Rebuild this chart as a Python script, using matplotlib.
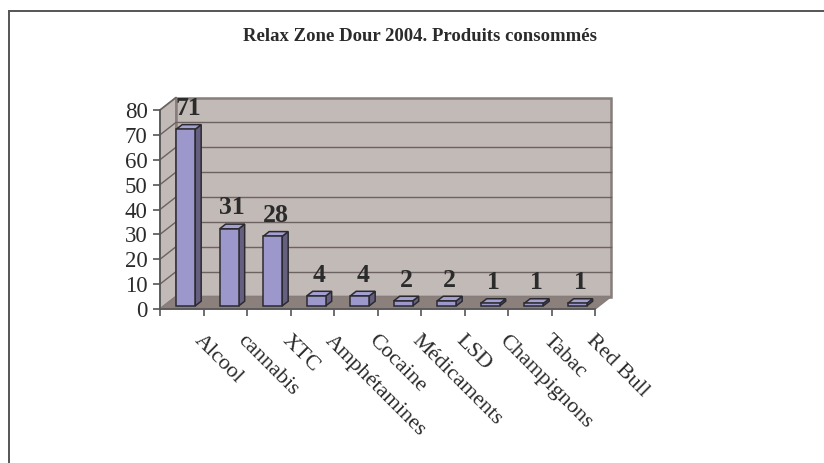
import matplotlib
matplotlib.use("Agg")
import matplotlib.pyplot as plt
from matplotlib.patches import Polygon, Rectangle

# data
categories = ["Alcool", "cannabis", "XTC", "Amphétamines", "Cocaine",
              "Médicaments", "LSD", "Champignons", "Tabac", "Red Bull"]
counts = [71, 31, 28, 4, 4, 2, 2, 1, 1, 1]
yticks = [0, 10, 20, 30, 40, 50, 60, 70, 80]
title = "Relax Zone Dour 2004. Produits consommés"

serif = ["Liberation Serif", "DejaVu Serif"]
wall_c = "#c2bab7"
floor_c = "#8c807d"
edge_c = "#877d7b"
grid_c = "#6c6262"
face_c = "#9c98cc"
side_c = "#675f80"
top_c = "#a4a0d2"
dark = "#2b2b2f"

fig = plt.figure(figsize=(8.24, 4.63), dpi=100)

# outer frame (only top and left edges fall inside the picture)
fig.add_artist(plt.Line2D([9 / 824, 1], [1 - 11 / 463, 1 - 11 / 463],
                          transform=fig.transFigure, color="#555555", lw=1.4))
fig.add_artist(plt.Line2D([9 / 824, 9 / 824], [0, 1 - 11 / 463],
                          transform=fig.transFigure, color="#555555", lw=1.4))

# front plane of the chart: x in category slots, y in counts
ax = fig.add_axes([160 / 824, 1 - 309 / 463, 435 / 824, 199 / 463])
n = len(categories)
ymax = yticks[-1]
ax.set_xlim(0, n)
ax.set_ylim(0, ymax)
ax.patch.set_visible(False)

# depth of the 3D box, in data units
dx = 16 / 43.5
dy = 12.5 * ymax / 199

# left wall, back wall, floor
ax.add_patch(Polygon([(0, 0), (dx, dy), (dx, ymax + dy), (0, ymax)],
                     closed=True, fc=wall_c, ec=edge_c, lw=1.2, zorder=1, clip_on=False))
ax.add_patch(Rectangle((dx, dy), n, ymax, fc=wall_c, ec=edge_c, lw=1.8, zorder=1, clip_on=False))
ax.add_patch(Polygon([(0, 0), (n, 0), (n + dx, dy), (dx, dy)],
                     closed=True, fc=floor_c, ec=edge_c, lw=1.2, zorder=2, clip_on=False))

# grid lines on the back wall and diagonals on the left wall
for v in yticks[1:-1]:
    ax.plot([dx, n + dx], [v + dy, v + dy], color=grid_c, lw=1.0, zorder=1.5, clip_on=False)
for v in yticks[1:]:
    ax.plot([0, dx], [v, v + dy], color=grid_c, lw=1.0, zorder=1.5, clip_on=False)

# bars
w = 0.437
f0, f1 = 0.25, 0.62
for i, v in enumerate(counts):
    x0 = i + 0.5 - w / 2 + f0 * dx
    x1 = x0 + w
    b0 = f0 * dy
    sx = (f1 - f0) * dx
    sy = (f1 - f0) * dy
    ax.add_patch(Polygon([(x1, b0), (x1 + sx, b0 + sy), (x1 + sx, b0 + sy + v), (x1, b0 + v)],
                         closed=True, fc=side_c, ec=dark, lw=1.1, zorder=3, clip_on=False))
    ax.add_patch(Polygon([(x0, b0 + v), (x1, b0 + v), (x1 + sx, b0 + sy + v), (x0 + sx, b0 + sy + v)],
                         closed=True, fc=top_c, ec=dark, lw=1.1, zorder=3, clip_on=False))
    ax.add_patch(Rectangle((x0, b0), w, v, fc=face_c, ec=dark, lw=1.1, zorder=4, clip_on=False))
    ax.annotate(str(v), xy=(x0 + w / 2 + sx / 2, b0 + sy + v), xytext=(0, 7),
                textcoords="offset points", ha="center", va="baseline",
                fontsize=18.5, fontweight="bold", family=serif, color="#2b2b2b",
                zorder=6, annotation_clip=False)

# axes lines and ticks
for s in ["top", "right"]:
    ax.spines[s].set_visible(False)
for s in ["left", "bottom"]:
    ax.spines[s].set_color("#555555")
    ax.spines[s].set_linewidth(1.2)
    ax.spines[s].set_zorder(5)
ax.set_yticks(yticks)
ax.set_yticklabels([str(t) for t in yticks], fontsize=16.5, family=serif, color="#2b2b2b")
ax.set_xticks(range(n + 1))
ax.set_xticklabels([])
ax.tick_params(axis="both", direction="out", length=5, width=1.2, color="#555555", pad=4)

# rotated category labels
for i, name in enumerate(categories):
    ax.annotate(name, xy=(i + 0.5, 0), xytext=(16, -16), textcoords="offset points",
                rotation=-45, rotation_mode="anchor", ha="left", va="top",
                fontsize=16, family=serif, color="#2b2b2b", annotation_clip=False)

fig.text(420 / 824, 1 - 41 / 463, title, ha="center", va="baseline",
         fontsize=13.5, fontweight="bold", family=serif, color="#2b2b2b")

fig.savefig("out.png", dpi=100)
